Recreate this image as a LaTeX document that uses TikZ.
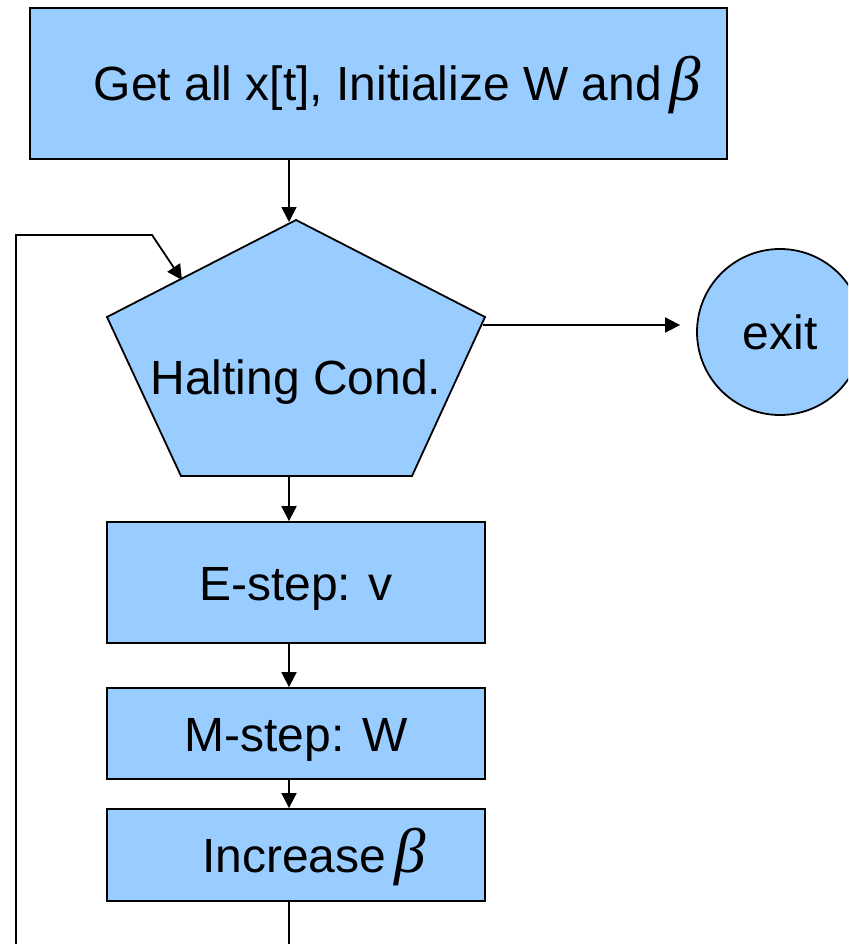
\documentclass[tikz,border=0pt]{standalone}
\usepackage{fontspec}
\setmainfont{Liberation Sans}
\newfontfamily\grkfont{Liberation Serif}
\usetikzlibrary{arrows.meta}
\definecolor{boxblue}{HTML}{99CCFF}
\newcommand\bsym{{\grkfont\itshape\fontsize{63}{63}\selectfont β}}
\tikzset{
  textsize/.style={font=\fontsize{48}{52}\selectfont, text height=35pt, text depth=0pt},
  flowbox/.style={draw=black, line width=1.8pt, fill=boxblue, inner sep=0pt, textsize},
  link/.style={line width=1.8pt, -{Triangle[length=15pt,width=15pt]}},
  label/.style={inner sep=0pt, textsize},
}
\begin{document}
\begin{tikzpicture}[x=1pt,y=-1pt]
\useasboundingbox (0,0) rectangle (848,944);
\clip (0,0) rectangle (848,944);

% initialisation box
\node[flowbox, minimum width=697pt, minimum height=151pt] (init) at (378.5,83.5)
  {\hspace*{38pt}Get all x[t], Initialize W and\,\bsym};

% halting condition pentagon
\coordinate (hctop) at (296,220);
\coordinate (hcright) at (485,317);
\coordinate (hcbr) at (412,476);
\coordinate (hcbl) at (181,476);
\coordinate (hcleft) at (107,317);
\draw[line width=1.8pt, fill=boxblue, line join=miter]
  (hctop) -- (hcright) -- (hcbr) -- (hcbl) -- (hcleft) -- cycle;
\node[label] (halt) at (296,377) {Halting Cond.};

% exit terminal
\node[flowbox, circle, minimum size=166pt] (exit) at (780,332) {exit};

% EM steps
\node[flowbox, minimum width=378pt, minimum height=121pt] (estep) at (296,582.5) {E-step: v};
\node[flowbox, minimum width=378pt, minimum height=91pt] (mstep) at (296,733.5) {M-step: W};
\node[flowbox, minimum width=378pt, minimum height=92pt] (inc) at (296,855)
  {\hspace*{36pt}Increase\,\bsym};

% connector anchors on the pentagon
\coordinate (hcin) at (289,222);
\coordinate (hcout) at (289,476);
\coordinate (hcexit) at (483,325);
\coordinate (hcloop) at (182,280);
\coordinate (loopturn) at (16,235);
\coordinate (loopbend) at (152,235);

% connectors
\draw[link] (init.south -| hcin) -- (hcin);
\draw[link] (hcout) -- (estep.north -| hcout);
\draw[link] (estep.south -| hcout) -- (mstep.north -| hcout);
\draw[link] (mstep.south -| hcout) -- (inc.north -| hcout);
\draw[link, shorten >=16pt] (hcexit) -- (hcexit -| exit.west);
\draw[link] (inc.south -| hcout) -- ++(0,80) -| (loopturn) -- (loopbend) -- (hcloop);
\end{tikzpicture}
\end{document}
